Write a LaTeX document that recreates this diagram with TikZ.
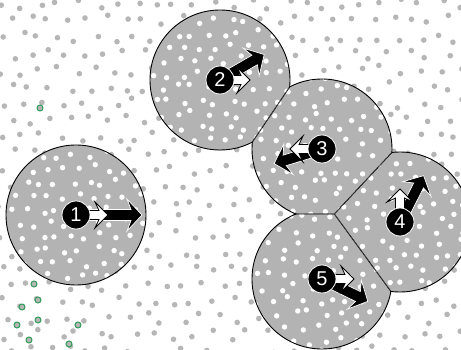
\documentclass[tikz,border=0pt]{standalone}
\usepackage{fontspec}
\setmainfont{Liberation Sans}
\usetikzlibrary{calc}

\definecolor{dotgray}{HTML}{B6B6B6}
\definecolor{cellgray}{HTML}{B3B3B3}
\definecolor{dotgreen}{HTML}{2E9A58}

\newcommand\dotgrid[7]{%
  \foreach \i in {0,...,#3}{%
    \foreach \j in {0,...,#4}{%
      \pgfmathsetmacro\px{#1+\i*#5+mod(\j,2)*#5/2+rand*#5*0.28}%
      \pgfmathsetmacro\py{#2+\j*#5*0.87+rand*#5*0.28}%
      \fill[#6] (\px,\py) circle (#7);}}}
\newcommand\halfplane[2]{($(#1)!300pt!90:(#2)$) -- ($(#1)!300pt!-90:(#2)$) -- ($(#1)!300pt!180:(#2)$) -- cycle}
\newcommand\bisector[2]{($(#1)!90pt!90:(#2)$) -- ($(#1)!90pt!-90:(#2)$)}
% block arrow: start, angle, length, shaft half, head half, head length, style
\newcommand\blockarrow[7]{%
  \filldraw[#7, shift={(#1)}, rotate=#2]
    (0,-#4) -- (#3-#6,-#4) -- (#3-#6-4,-#5) -- (#3,0)
    -- (#3-#6-4,#5) -- (#3-#6,#4) -- (0,#4) -- cycle;}

\begin{document}
\begin{tikzpicture}[
    x=1pt, y=-1pt,
    bgdot/.style={fill=dotgray},
    holedot/.style={fill=white},
    greendot/.style={fill=dotgray, draw=dotgreen, line width=1pt},
    cellfill/.style={fill=cellgray},
    celledge/.style={draw=black, line width=0.9pt},
    numdisc/.style={
        circle,
        fill=black,
        draw=white,
        line width=0.8pt,
        minimum size=28pt,
        inner sep=0pt,
        text=white,
        font=\fontsize{20}{20}\selectfont
    },
    blackarr/.style={fill=black, draw=white, line width=0.7pt, line join=miter},
    whitearr/.style={fill=white, draw=black, line width=0.8pt, line join=miter}
]
    \pgfmathsetseed{7}
    \useasboundingbox (0,0) rectangle (461,350);
    \fill[white] (0,0) rectangle (461,350);

    \coordinate (c1) at (76,215);
    \coordinate (c2) at (220,80);
    \coordinate (c3) at (322,149);
    \coordinate (c4) at (400,222);
    \coordinate (c5) at (322,279);
    \coordinate (m23) at ($(c2)!.5!(c3)$);
    \coordinate (m34) at ($(c3)!.5!(c4)$);
    \coordinate (m35) at ($(c3)!.5!(c5)$);
    \coordinate (m45) at ($(c4)!.5!(c5)$);

    \dotgrid{2}{4}{24}{21}{19}{bgdot}{2.8pt}
    \foreach \p in {(40,108),(34,284),(38,300),(22,307),(38,320),(17,325),(78,325),(29,340),(69,344)}
        \filldraw[greendot] \p circle (3pt);

    \begin{scope}
        \fill[cellfill] (c1) circle (70pt);
        \begin{scope}
            \clip (c1) circle (70pt);
            \dotgrid{2}{142}{10}{12}{15.5}{holedot}{2.7pt}
        \end{scope}
        \draw[celledge] (c1) circle (70pt);
    \end{scope}

    \begin{scope}
        \clip \halfplane{m23}{c3};
        \fill[cellfill] (c2) circle (70pt);
        \begin{scope}
            \clip (c2) circle (70pt);
            \dotgrid{146}{6}{10}{12}{15.5}{holedot}{2.7pt}
            \draw[celledge] \bisector{m23}{c3};
        \end{scope}
        \draw[celledge] (c2) circle (70pt);
    \end{scope}

    \begin{scope}
        \clip \halfplane{m23}{c2};
        \clip \halfplane{m34}{c4};
        \clip \halfplane{m35}{c5};
        \fill[cellfill] (c3) circle (70pt);
        \begin{scope}
            \clip (c3) circle (70pt);
            \dotgrid{249}{76}{10}{12}{15.5}{holedot}{2.7pt}
            \draw[celledge] \bisector{m23}{c2} \bisector{m34}{c4} \bisector{m35}{c5};
        \end{scope}
        \draw[celledge] (c3) circle (70pt);
    \end{scope}

    \begin{scope}
        \clip \halfplane{m34}{c3};
        \clip \halfplane{m45}{c5};
        \fill[cellfill] (c4) circle (70pt);
        \begin{scope}
            \clip (c4) circle (70pt);
            \dotgrid{325}{149}{10}{12}{15.5}{holedot}{2.7pt}
            \draw[celledge] \bisector{m34}{c3} \bisector{m45}{c5};
        \end{scope}
        \draw[celledge] (c4) circle (70pt);
    \end{scope}

    \begin{scope}
        \clip \halfplane{m35}{c3};
        \clip \halfplane{m45}{c4};
        \fill[cellfill] (c5) circle (70pt);
        \begin{scope}
            \clip (c5) circle (70pt);
            \dotgrid{248}{206}{10}{12}{15.5}{holedot}{2.7pt}
            \draw[celledge] \bisector{m35}{c3} \bisector{m45}{c4};
        \end{scope}
        \draw[celledge] (c5) circle (70pt);
    \end{scope}

    \blockarrow{c1}{0}{66}{5.5}{16}{11}{blackarr}
    \blockarrow{c1}{0}{32}{4.5}{13}{9}{whitearr}
    \node[numdisc] (n1) at (c1) {1};

    \blockarrow{c2}{30}{51}{5.5}{16}{11}{blackarr}
    \blockarrow{c2}{0}{30}{4.5}{13}{9}{whitearr}
    \node[numdisc] (n2) at (c2) {2};

    \blockarrow{c3}{197}{50}{5.5}{16}{11}{blackarr}
    \blockarrow{c3}{180}{32}{4.5}{13}{9}{whitearr}
    \node[numdisc] (n3) at (c3) {3};

    \blockarrow{c4}{63}{52}{5.5}{16}{11}{blackarr}
    \blockarrow{c4}{90}{33}{4.5}{13}{9}{whitearr}
    \node[numdisc] (n4) at (c4) {4};

    \blockarrow{c5}{-26}{51}{5.5}{16}{11}{blackarr}
    \blockarrow{c5}{0}{32}{4.5}{13}{9}{whitearr}
    \node[numdisc] (n5) at (c5) {5};
\end{tikzpicture}
\end{document}
